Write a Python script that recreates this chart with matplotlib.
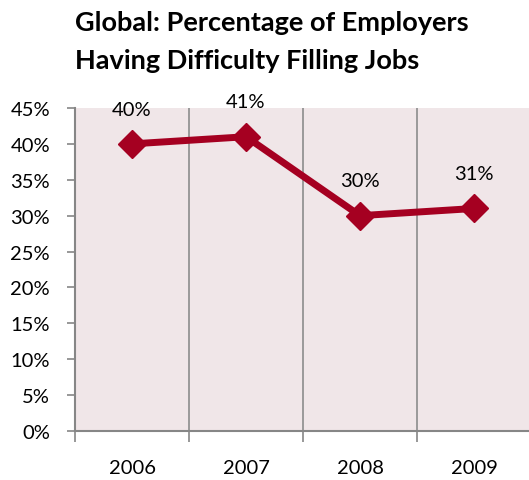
import matplotlib
matplotlib.use("Agg")
import matplotlib.pyplot as plt
from matplotlib.ticker import FixedLocator

plt.rcParams['font.family'] = ['Lato', 'DejaVu Sans']

years = ["2006", "2007", "2008", "2009"]
values = [40, 41, 30, 31]
y_ticks = [0, 5, 10, 15, 20, 25, 30, 35, 40, 45]
title_lines = ["Global: Percentage of Employers", "Having Difficulty Filling Jobs"]

fig = plt.figure(figsize=(5.29, 4.81), dpi=100)
ax = fig.add_axes([75/529, 49/481, 456/529, 323/481])
ax.set_facecolor("#F0E6E8")

x = list(range(len(years)))
ax.plot(x, values, color="#A50021", lw=5, marker="D", ms=14, zorder=3)
for xi, v in zip(x, values):
    ax.annotate(f"{v}%", (xi, v), xytext=(0, 25), textcoords="offset points",
                ha="center", va="center", fontsize=14.5, color="black")

ax.set_xlim(-0.5, len(years) - 0.5)
ax.set_ylim(0, 45)
ax.set_yticks(y_ticks)
ax.set_yticklabels([f"{t}%" for t in y_ticks], fontsize=14.5)
ax.set_xticks(x)
ax.set_xticklabels(years, fontsize=14.5)
ax.tick_params(axis="x", length=0, pad=20)
ax.tick_params(axis="y", length=6, width=1.2, color="#868686", pad=12)

# minor ticks at category boundaries for x grid
bounds = [i + 0.5 for i in range(-1, len(years))]
ax.xaxis.set_minor_locator(FixedLocator(bounds))
ax.tick_params(axis="x", which="minor", length=8, width=1.2, color="#868686")
ax.grid(axis="x", which="minor", color="#8C8C8C", lw=1.2)

for s in ["top", "right"]:
    ax.spines[s].set_visible(False)
for s in ["left", "bottom"]:
    ax.spines[s].set_color("#868686")
    ax.spines[s].set_linewidth(1.5)

for i, line in enumerate(title_lines):
    fig.text(75/529, 1 - (23 + 38 * i)/481, line, ha="left", va="center",
             fontsize=19.5, fontweight="bold")

fig.savefig("out.png", dpi=100)
